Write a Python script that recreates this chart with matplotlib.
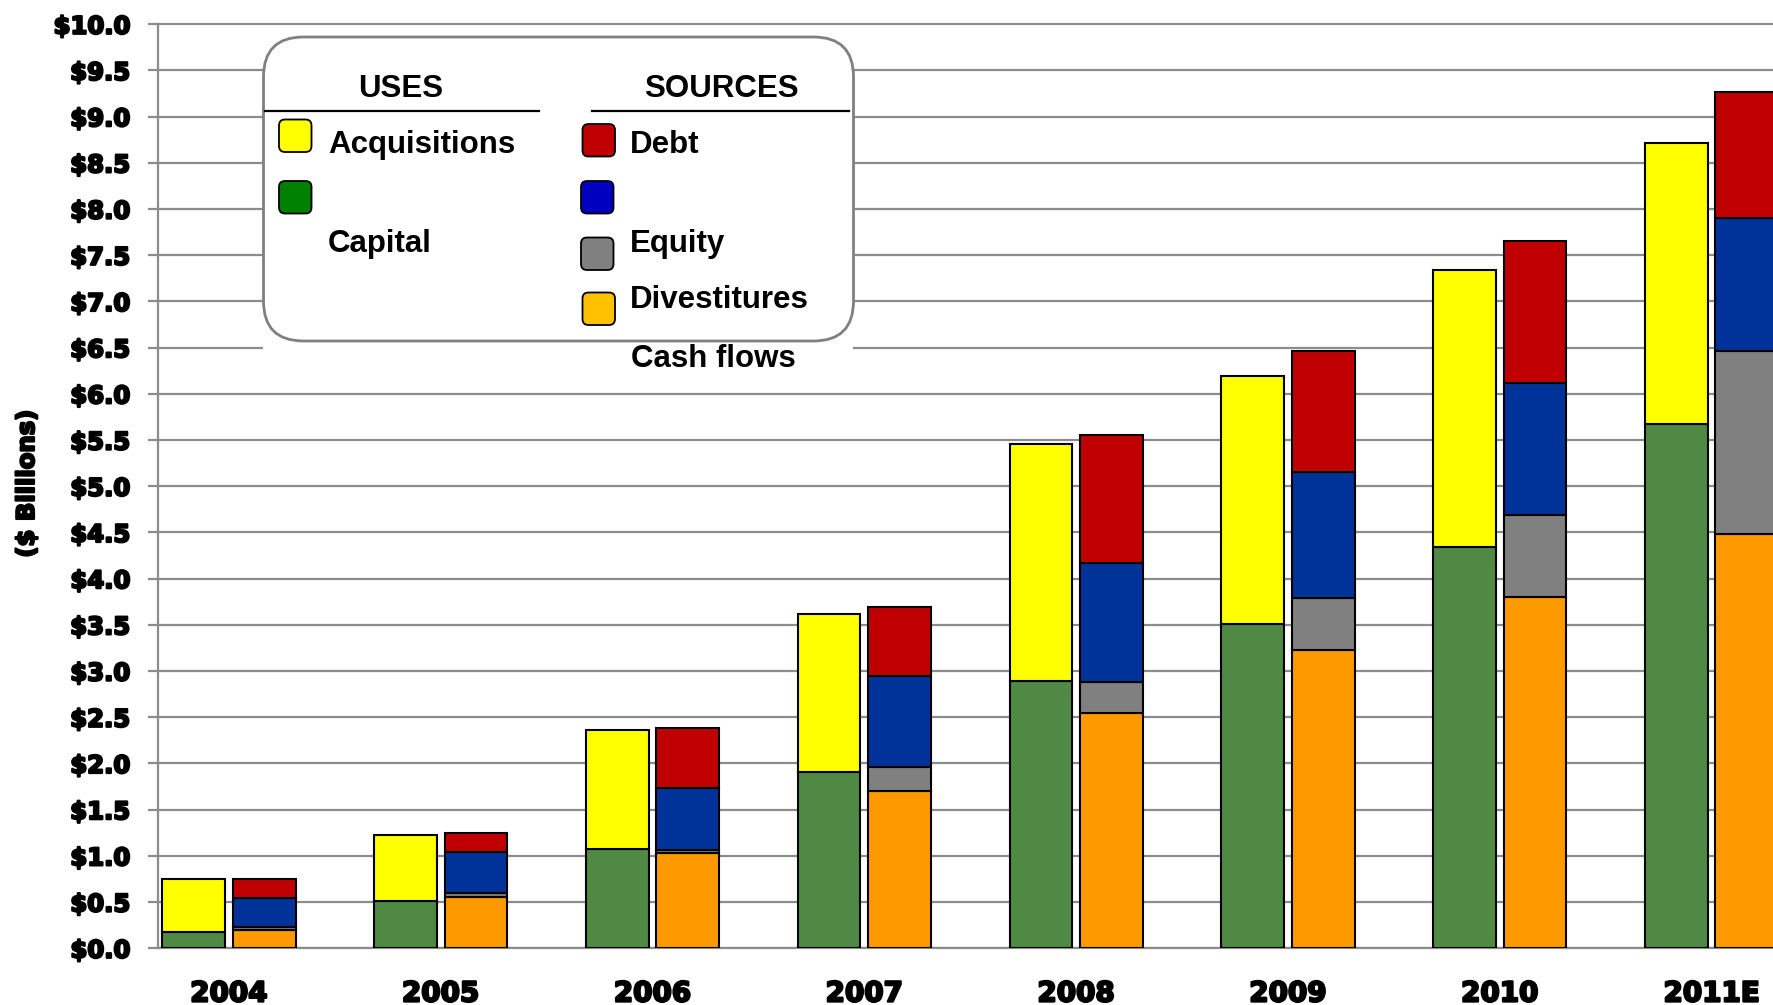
import numpy as np
import matplotlib
matplotlib.use("Agg")
import matplotlib.pyplot as plt
from matplotlib.patches import FancyBboxPatch, Rectangle
import matplotlib.patheffects as pe

# ---- data ($ billions) ----
years = ["2004", "2005", "2006", "2007", "2008", "2009", "2010", "2011E"]

# uses of cash
capital = [0.18, 0.51, 1.07, 1.91, 2.89, 3.51, 4.34, 5.67]
acquisitions = [0.57, 0.72, 1.29, 1.71, 2.57, 2.68, 3.00, 3.05]

# sources of cash
cash_flows = [0.20, 0.56, 1.03, 1.70, 2.55, 3.23, 3.80, 4.48]
equity = [0.03, 0.04, 0.03, 0.26, 0.33, 0.56, 0.89, 1.98]
divestitures = [0.31, 0.44, 0.68, 0.99, 1.29, 1.37, 1.43, 1.44]
debt = [0.21, 0.21, 0.64, 0.74, 1.38, 1.30, 1.54, 1.37]

ytick_vals = np.arange(0, 10.01, 0.5)

# ---- styling ----
C_GREEN = "#4F8944"
C_YELLOW = "#FFFF00"
C_ORANGE = "#FF9900"
C_GRAY = "#808080"
C_BLUE = "#003399"
C_RED = "#C00000"
GRID = "#8C8C8C"

W, H = 1773, 1005
fig = plt.figure(figsize=(W / 100, H / 100), dpi=100)

ax_left = 158 / W
ax_bottom = 1 - 948.3 / H
ymax = 10.1
ax_height = ymax * 92.4 / H
ax = fig.add_axes([ax_left, ax_bottom, 1 - ax_left, ax_height])

x = np.arange(len(years))
bw = 0.296
off = 0.1665
ekw = dict(edgecolor="black", linewidth=1.5, zorder=3)

cap = np.array(capital)
ax.bar(x - off, cap, bw, color=C_GREEN, **ekw)
ax.bar(x - off, acquisitions, bw, bottom=cap, color=C_YELLOW, **ekw)

b = np.zeros(len(years))
for vals, col in [(cash_flows, C_ORANGE), (equity, C_GRAY),
                  (divestitures, C_BLUE), (debt, C_RED)]:
    ax.bar(x + off, vals, bw, bottom=b, color=col, **ekw)
    b = b + np.array(vals)

ax.set_xlim(-0.335, 7.29)
ax.set_ylim(0, ymax)
ax.set_yticks(ytick_vals)
ax.set_yticklabels([f"${v:.1f}" for v in ytick_vals])
ax.set_xticks(x)
ax.set_xticklabels(years)

ax.set_axisbelow(True)
ax.yaxis.grid(True, color=GRID, linewidth=1.6)
ax.xaxis.grid(False)
for s in ["top", "right"]:
    ax.spines[s].set_visible(False)
ax.spines["left"].set_color(GRID)
ax.spines["left"].set_linewidth(1.6)
ax.spines["left"].set_bounds(0, 10)
ax.spines["bottom"].set_color(GRID)
ax.spines["bottom"].set_linewidth(1.6)

heavy = [pe.withStroke(linewidth=1.6, foreground="black")]
ax.tick_params(axis="y", length=7.2, width=1.6, color=GRID, pad=13.0,
               labelsize=17.5, direction="out")
ax.tick_params(axis="x", length=0, pad=22.5, labelsize=20)
for lab in ax.get_yticklabels() + ax.get_xticklabels():
    lab.set_fontweight("bold")
    lab.set_family("DejaVu Sans")
    lab.set_path_effects(heavy)

fig.text(27 / W, 1 - 484 / H, "($ Billions)", rotation=90, ha="center",
         va="center", fontsize=17.5, fontweight="bold", family="DejaVu Sans",
         path_effects=heavy)

# ---- hand-built legend, drawn in pixel coordinates ----
ov = fig.add_axes([0, 0, 1, 1], zorder=5)
ov.set_xlim(0, W)
ov.set_ylim(H, 0)
ov.axis("off")
ov.patch.set_alpha(0)

ov.add_patch(Rectangle((263, 37), 590, 338, facecolor="white",
                       edgecolor="none"))
ov.add_patch(FancyBboxPatch((263.5, 37), 590, 304,
                            boxstyle="round,pad=0,rounding_size=40",
                            facecolor="white", edgecolor="#808080",
                            linewidth=2.0))

LFONT = dict(fontsize=22.5, fontweight="bold", family="Liberation Sans",
             color="black")
ov.text(400.5, 97, "USES", ha="center", va="baseline", **LFONT)
ov.text(721, 97, "SOURCES", ha="center", va="baseline", **LFONT)
ov.plot([265, 539], [111, 111], color="black", linewidth=1.6)
ov.plot([592, 849], [111, 111], color="black", linewidth=1.6)


def swatch(x0, y0, color):
    ov.add_patch(FancyBboxPatch((x0, y0), 32.5, 32.5,
                                boxstyle="round,pad=0,rounding_size=6",
                                facecolor=color, edgecolor="black",
                                linewidth=1.3))


swatch(279, 119.5, "#FFFF00")
swatch(279, 181, "#008000")
swatch(582.5, 124, "#C00000")
swatch(581, 181, "#0000C0")
swatch(581, 237.5, "#808080")
swatch(582.5, 292.5, "#FFC000")

ov.text(328, 152.7, "Acquisitions", ha="left", va="baseline", **LFONT)
ov.text(328, 251.7, "Capital", ha="left", va="baseline", **LFONT)
ov.text(630, 152.7, "Debt", ha="left", va="baseline", **LFONT)
ov.text(630, 251.7, "Equity", ha="left", va="baseline", **LFONT)
ov.text(630, 308.3, "Divestitures", ha="left", va="baseline", **LFONT)
ov.text(631, 367.3, "Cash flows", ha="left", va="baseline", **LFONT)

fig.savefig("out.png", dpi=100)
